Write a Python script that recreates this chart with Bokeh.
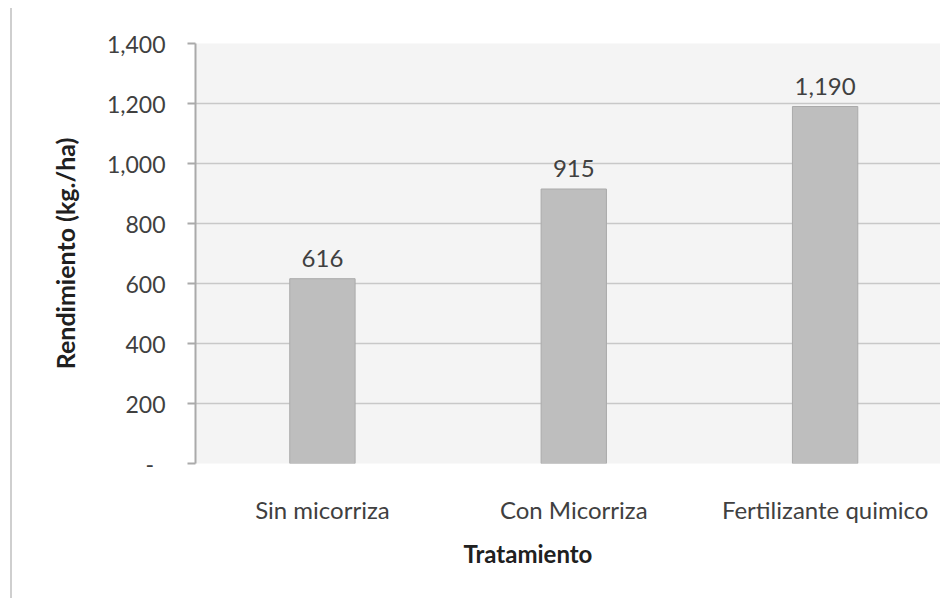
from bokeh.plotting import figure
from bokeh.models import Range1d, FixedTicker, Title, ColumnDataSource
from bokeh.embed import file_html
from bokeh.resources import INLINE
from bokeh.core.properties import value

# ---- data ----
categories = ["Sin micorriza", "Con Micorriza", "Fertilizante quimico"]
rendimiento = [616, 915, 1190]
y_ticks = [0, 200, 400, 600, 800, 1000, 1200, 1400]
y_tick_labels = ["-\u2002", "200", "400", "600", "800", "1,000", "1,200", "1,400"]
x_title = "Tratamiento"
y_title = "Rendimiento (kg./ha)"

FONT = "Lato"
TXT = "#404040"

x_pos = list(range(len(categories)))
src = ColumnDataSource(dict(x=x_pos, top=rendimiento,
                            label=[f"{v:,}" for v in rendimiento]))

p = figure(width=930, height=590, output_backend="svg", toolbar_location=None,
           x_range=Range1d(-0.505, 2.467), y_range=Range1d(0, 1400),
           min_border_left=183, min_border_right=0, min_border_top=35,
           min_border_bottom=135)
p.styles = {"border-left": "2px solid #cfcfcf", "margin-left": "10px",
            "margin-top": "8px"}

p.background_fill_color = "#f4f4f4"
p.border_fill_color = "white"
p.outline_line_color = None

p.vbar(x="x", top="top", width=0.26, source=src,
       fill_color="#bebebe", line_color="#aaaaaa", line_width=1)

p.text(x="x", y="top", text="label", source=src, y_offset=-12,
       text_align="center", text_baseline="bottom",
       text_font=value(FONT), text_font_size="24px", text_color=TXT)

# y axis
p.yaxis.ticker = FixedTicker(ticks=y_ticks)
p.yaxis.major_label_overrides = {t: l for t, l in zip(y_ticks, y_tick_labels)}
p.yaxis.axis_line_color = "#aaaaaa"
p.yaxis.axis_line_width = 2
p.yaxis.major_tick_line_color = "#aaaaaa"
p.yaxis.major_tick_line_width = 2
p.yaxis.major_tick_out = 8
p.yaxis.major_tick_in = 0
p.yaxis.minor_tick_line_color = None
p.yaxis.major_label_text_font = FONT
p.yaxis.major_label_text_font_size = "23px"
p.yaxis.major_label_text_color = TXT
p.yaxis.major_label_standoff = 22
p.yaxis.axis_label = y_title
p.yaxis.axis_label_text_font = FONT
p.yaxis.axis_label_text_font_style = "bold"
p.yaxis.axis_label_text_font_size = "25px"
p.yaxis.axis_label_text_color = "#202020"
p.yaxis.axis_label_standoff = 24

# x axis
p.xaxis.ticker = FixedTicker(ticks=x_pos)
p.xaxis.major_label_overrides = {i: c for i, c in zip(x_pos, categories)}
p.xaxis.axis_line_color = None
p.xaxis.major_tick_line_color = None
p.xaxis.minor_tick_line_color = None
p.xaxis.major_label_text_font = FONT
p.xaxis.major_label_text_font_size = "24px"
p.xaxis.major_label_text_color = TXT
p.xaxis.major_label_standoff = 25

p.xgrid.grid_line_color = None
p.ygrid.grid_line_color = "#c8c8c8"
p.ygrid.grid_line_width = 1.5

p.add_layout(Title(text=x_title, align="left", offset=268, standoff=21,
                   text_font=FONT, text_font_style="bold",
                   text_font_size="24px", text_color="#202020"), "below")

open("out.html", "w").write(file_html(p, INLINE))
